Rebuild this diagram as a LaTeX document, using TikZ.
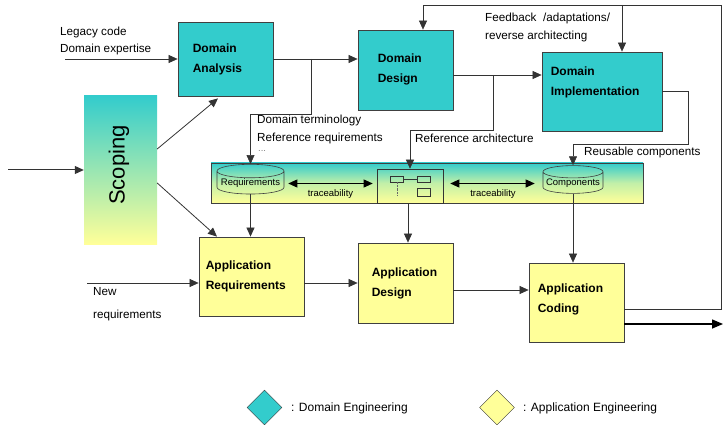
\documentclass[tikz,border=0pt]{standalone}
\usepackage{fontspec}
\setmainfont{Liberation Sans}
\usetikzlibrary{arrows.meta,shapes.geometric,positioning}
\definecolor{domcol}{HTML}{33CCCC}
\definecolor{appcol}{HTML}{FFFF99}

\begin{document}
\begin{tikzpicture}[x=1pt,y=-1pt,>={Triangle[length=9pt,width=8pt]},
	dom/.style={draw=black!75, fill=domcol, line width=0.8pt, inner sep=0pt},
	app/.style={draw=black!75, fill=appcol, line width=0.8pt, inner sep=0pt},
	boxtext/.style={anchor=west, align=left, inner sep=0pt, font=\fontsize{12}{20}\selectfont\bfseries},
	lbl/.style={anchor=west, align=left, inner sep=0pt, font=\fontsize{11.7}{17}\selectfont},
	tiny/.style={font=\fontsize{9.5}{11}\selectfont},
	store/.style={cylinder, shape border rotate=90, aspect=0.22, draw=black!75, line width=0.6pt, inner sep=1pt, tiny},
	flow/.style={->, draw=black!80, line width=0.6pt},
	trace/.style={<->, draw=black, line width=0.7pt}]
	\useasboundingbox (0,0) rectangle (723,425);

	% domain engineering
	\node[dom, minimum width=95pt, minimum height=74pt] (DA) at (225.5,59) {};
	\node[boxtext] (DAt) at ([xshift=15pt]DA.west) {Domain\\Analysis};
	\node[dom, minimum width=95pt, minimum height=80pt] (DD) at (405.5,70) {};
	\node[boxtext] (DDt) at ([xshift=20pt,yshift=1pt]DD.west) {Domain\\Design};
	\node[dom, minimum width=120pt, minimum height=79pt] (DI) at (602,91.5) {};
	\node[boxtext] (DIt) at ([xshift=9pt,yshift=9pt]DI.west) {Domain\\Implementation};

	% scoping
	\node[top color=domcol, bottom color=appcol, minimum width=73pt, minimum height=148pt, inner sep=0pt] (scope) at (120.5,170) {};
	\node[rotate=90, inner sep=0pt, font=\fontsize{22}{24}\selectfont] (scopet) at (119,165) {Scoping};

	% platform band
	\node[top color=domcol, bottom color=appcol, middle color=domcol!30!appcol, draw=black!75, line width=0.6pt, minimum width=432pt, minimum height=40pt, inner sep=0pt] (band) at (427,183) {};
	\node[store, minimum width=67pt, minimum height=27pt] (req) at (250.5,183.5) {Requirements};
	\node[draw=black!80, line width=0.6pt, minimum width=66pt, minimum height=34pt, inner sep=0pt] (arch) at (410,186) {};
	\draw[black!80, line width=0.5pt] (390,176) rectangle (403,182) (417,176) rectangle (430,182) (417,188) rectangle (430,196);
	\draw[black!80, line width=0.5pt] (403,179) -- (417,179);
	\draw[black!60, line width=0.4pt, densely dotted] (397,182) -- (397,195);
	\node[store, minimum width=60pt, minimum height=27pt] (comp) at (573,183.5) {Components};

	% application engineering
	\node[app, minimum width=105pt, minimum height=79pt] (AR) at (251.5,276.5) {};
	\node[boxtext] (ARt) at ([xshift=7pt]AR.west) {Application\\Requirements};
	\node[app, minimum width=95pt, minimum height=80pt] (AD) at (405.5,283) {};
	\node[boxtext] (ADt) at ([xshift=14pt]AD.west) {Application\\Design};
	\node[app, minimum width=95pt, minimum height=79pt] (AC) at (576.5,302.5) {};
	\node[boxtext] (ACt) at ([xshift=9pt,yshift=3pt]AC.west) {Application\\Coding};

	% labels
	\node[lbl] (inDA) at (60,40.5) {Legacy code\\Domain expertise};
	\node[lbl, font=\fontsize{11.7}{18}\selectfont] (termlbl) at (257,129) {Domain terminology\\Reference requirements};
	\node[lbl, tiny, text=black!50] (dots) at (258,151) {...};
	\node[lbl] (archlbl) at (415,138) {Reference architecture};
	\node[lbl] (reuselbl) at (584,152) {Reusable components};
	\node[lbl, font=\fontsize{11.7}{18}\selectfont] (fblbl) at (485,27) {Feedback\ \ /adaptations/\\reverse architecting};
	\node[lbl, font=\fontsize{11.7}{23}\selectfont] (newlbl) at (93,304.5) {New\\requirements};

	% free ends and taps
	\coordinate (inA) at (65,59);
	\coordinate (inS) at (8,170);
	\coordinate (newin) at (87,283);
	\coordinate (tapA) at (311,59);
	\coordinate (tapD) at (493,75);
	\coordinate (fbtop) at (721,5);
	\coordinate (fbd) at ([xshift=17.5pt]DD.north);
	\coordinate (fbi) at ([xshift=20pt]DI.north);
	\coordinate (outend) at (723,324);

	% domain flows
	\draw[flow] (inA) -- (DA.west);
	\draw[flow] (DA.east) -- (DA.east -| DD.west);
	\draw[flow] (tapA) -- ++(0,55) -| (req.north);
	\draw[flow] ([yshift=-5pt]DD.east) -- ([yshift=-5pt]DD.east -| DI.west);
	\draw[flow] (tapD) -- ++(0,55) -| (arch.north);
	\draw[flow] (DI.east) -- ++(26,0) -- ++(0,53) -| (comp.north);

	% scoping flows
	\draw[flow, line width=1pt] (inS) -- (scope.west);
	\draw[flow, line width=0.8pt] ([yshift=21pt]scope.east) -- ([xshift=-7.5pt,yshift=-2pt]DA.south);
	\draw[flow, line width=0.8pt] ([yshift=-13pt]scope.east) -- ([xshift=-34.5pt]AR.north);

	% traceability
	\draw[trace, shorten <=4pt, shorten >=4pt] (req.east) -- (req.east -| arch.west) node[midway, below=2pt, tiny] (tr1) {traceability};
	\draw[trace, shorten <=7pt, shorten >=8pt] (req.east -| arch.east) -- (req.east -| comp.west) node[midway, below=2pt, tiny] (tr2) {traceability};

	% platform to application
	\draw[flow] (req.south) -- (req.south |- AR.north);
	\draw[flow] ([xshift=-2pt]arch.south) -- ([xshift=-2pt]arch.south |- AD.north);
	\draw[flow] (comp.south) -- (comp.south |- AC.north);

	% application flows
	\draw[flow] (newin) -- (newin -| AR.west);
	\draw[flow] ([yshift=-6.5pt]AR.east) -- ([yshift=-6.5pt]AR.east -| AD.west);
	\draw[flow] ([yshift=-7pt]AD.east) -- ([yshift=-7pt]AD.east -| AC.west);

	% feedback and output
	\draw[flow] ([yshift=-6.5pt]AC.east) -| (fbtop) -| (fbd);
	\draw[flow] (fbi |- fbtop) -- (fbi);
	\draw[-{Triangle[length=11pt,width=9pt]}, line width=1.5pt] ([yshift=-21.5pt]AC.east) -- (outend);

	% legend
	\node[diamond, draw=black!80, fill=domcol, minimum width=35pt, minimum height=35pt, inner sep=0pt] (legD) at (264.5,407.5) {};
	\node[lbl, font=\fontsize{12}{14}\selectfont] (legDt) at (291,408) {: Domain Engineering};
	\node[diamond, draw=black!80, fill=appcol, minimum width=35pt, minimum height=35pt, inner sep=0pt] (legA) at (497,407.5) {};
	\node[lbl, font=\fontsize{12}{14}\selectfont] (legAt) at (523,408) {: Application Engineering};
\end{tikzpicture}
\end{document}
